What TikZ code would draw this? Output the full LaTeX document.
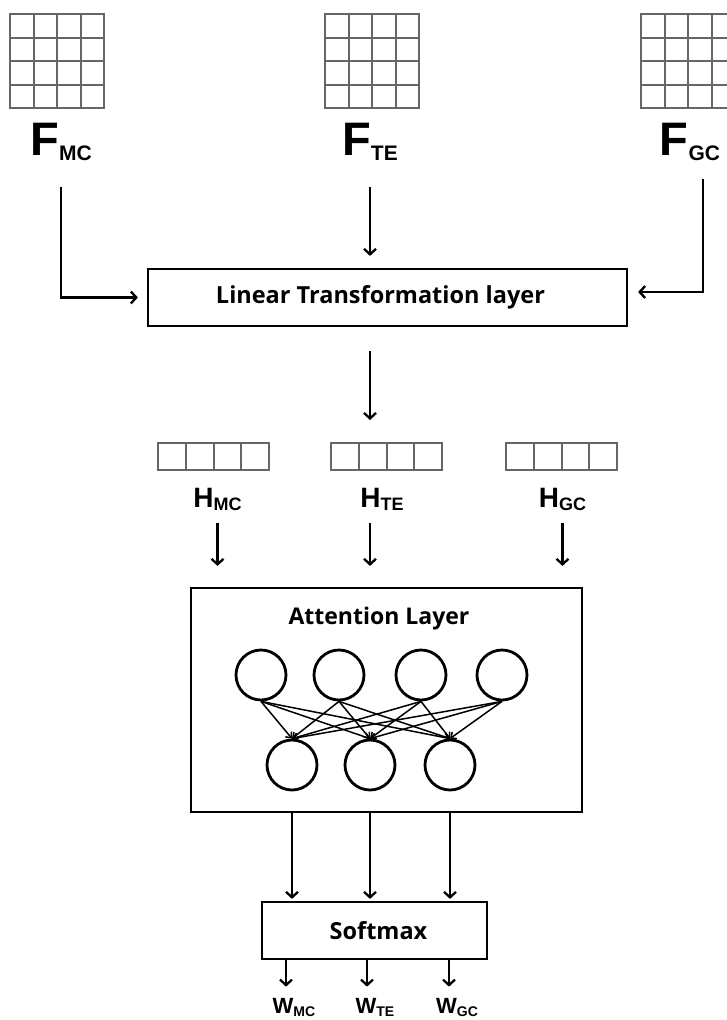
\documentclass[tikz,border=0pt]{standalone}
\usepackage{fontspec}
\usepackage{tikz}
\usetikzlibrary{arrows.meta}
\tikzset{>={Straight Barb[length=5.5pt,width=12pt]}}
\newfontfamily\boxfont{Open Sans}
\newfontfamily\lblfont{Liberation Sans}
% big letter with a lowered subscript
\newcommand{\sublbl}[5]{{\lblfont\bfseries\fontsize{#1}{#1}\selectfont #4}{\lblfont\bfseries\fontsize{#2}{#2}\selectfont\raisebox{-#3}{#5}}}

\begin{document}
\begin{tikzpicture}[
    x = 1pt, y = -1pt,
    cell/.style = {draw=black!60, line width=2pt, minimum size=23.5pt,
        inner sep=0pt, outer sep=0pt},
    hcell/.style = {cell, minimum width=27.75pt, minimum height=27pt},
    lbl/.style = {anchor=base, inner sep=0pt},
    layer/.style = {draw, line width=2.2pt, inner sep=0pt,
        font=\boxfont\bfseries},
    neuron/.style = {circle, draw, line width=2.8pt, minimum size=50pt,
        inner sep=0pt},
    conn/.style = {->, line width=2.3pt},
    link/.style = {-{Straight Barb[length=4.5pt,width=8pt]}, line width=1.5pt}
  ]
  \useasboundingbox (0,0) rectangle (727,1020);

  % input matrices
  \foreach \g/\x in {fmc/10, fte/325, fgc/641}
    \foreach \r in {1,...,4}
      \foreach \c in {1,...,4}
        \node[cell] (\g-\r-\c) at ({\x+23.5*\c-11.75}, {14+23.5*\r-11.75}) {};

  \node[lbl] (fmc) at (61,155) {\sublbl{47}{21}{5pt}{F}{MC}};
  \node[lbl] (fte) at (370,155) {\sublbl{47}{21}{5pt}{F}{TE}};
  \node[lbl] (fgc) at (690,155) {\sublbl{47}{21}{5pt}{F}{GC}};

  \node[layer, minimum width=479pt, minimum height=57pt] (lin) at (387.5,297.5)
    {\hspace*{-14pt}\fontsize{23.5}{23.5}\selectfont Linear Transformation layer};

  \draw[conn, shorten <=27pt, shorten >=9pt] (fmc.south) |- (lin.west);
  \draw[conn, shorten <=27pt, shorten >=12pt] (fte.south) -- (fte.south |- lin.north);
  \draw[conn, shorten <=19pt, shorten >=10pt] ([xshift=13pt]fgc.south) |- ([yshift=5.5pt]lin.east);

  % hidden vectors
  \foreach \g/\x in {hmc/158, hte/331, hgc/506}
    \foreach \c in {1,...,4}
      \node[hcell] (\g-\c) at ({\x+27.75*\c-13.875}, 456.5) {};

  \node[lbl] (hmc) at (217.5,507) {\sublbl{28}{18}{3pt}{H}{MC}};
  \node[lbl] (hte) at (382,507) {\sublbl{28}{18}{3pt}{H}{TE}};
  \node[lbl] (hgc) at (562.5,507) {\sublbl{28}{18}{3pt}{H}{GC}};

  \draw[conn, shorten <=24pt, shorten >=23pt] (lin.south -| fte) -- (hte-1.north -| fte);

  % attention layer
  \node[layer, minimum width=391pt, minimum height=224pt] (att) at (386.5,700) {};
  \node[lbl, font=\boxfont\bfseries\fontsize{23}{23}\selectfont] (attlbl) at (379,624) {Attention Layer};

  \draw[conn, shorten <=13pt, shorten >=21pt] (hmc.south) -- (hmc.south |- att.north);
  \draw[conn, shorten <=13pt, shorten >=21pt] (hte.south -| fte) -- (att.north -| fte);
  \draw[conn, shorten <=13pt, shorten >=21pt] (hgc.south) -- (hgc.south |- att.north);

  \foreach \n/\x in {1/261, 2/339, 3/421, 4/502}
    \node[neuron] (t\n) at (\x,675) {};
  \foreach \n/\x in {1/292, 2/370, 3/450}
    \node[neuron] (b\n) at (\x,765) {};
  \foreach \i in {1,...,4}
    \foreach \j in {1,2,3}
      \draw[link] (t\i.south) -- (b\j.north);

  % softmax and weights
  \node[layer, minimum width=225pt, minimum height=57pt] (sm) at (374.5,930.5)
    {\hspace*{8pt}\fontsize{23.5}{23.5}\selectfont Softmax};

  \foreach \j in {1,2,3}
    \draw[conn, shorten >=2pt] (b\j |- att.south) -- (b\j |- sm.north);

  \node[lbl] (wmc) at (294,1013) {\sublbl{22}{14}{3pt}{W}{MC}};
  \node[lbl] (wte) at (375,1013) {\sublbl{22}{14}{3pt}{W}{TE}};
  \node[lbl] (wgc) at (457,1013) {\sublbl{22}{14}{3pt}{W}{GC}};

  \foreach \w in {wmc, wte, wgc}
    \draw[conn, shorten >=11pt] ([xshift=-8pt]sm.south -| \w) -- ([xshift=-8pt]\w.north);
\end{tikzpicture}
\end{document}
